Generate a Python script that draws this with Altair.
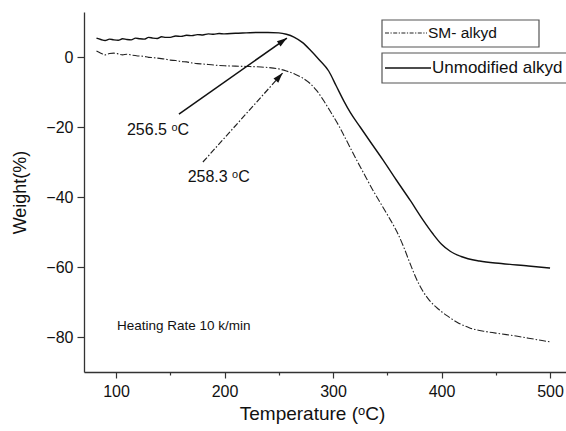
import math
import altair as alt
import pandas as pd

# ---- data ----
temp_unmod = [82, 86, 90, 94, 98, 102, 106, 110, 114, 118, 122, 126, 130, 134, 138, 142, 146, 150,
              155, 160, 165, 170, 175, 180, 185, 190, 195, 200, 210, 220, 230, 240, 250, 257, 264,
              272, 279, 287, 296, 303, 310, 316, 325, 335, 346, 358, 371, 383, 392, 400, 408, 418,
              435, 455, 480, 500]
weight_unmod = [5.4, 5.0, 4.7, 5.1, 4.9, 4.8, 5.2, 5.0, 4.9, 5.4, 5.2, 5.1, 5.6, 5.4, 5.3, 5.8, 5.6, 5.6,
                6.0, 5.9, 6.2, 6.1, 6.4, 6.3, 6.6, 6.5, 6.7, 6.6, 6.8, 6.9, 7.0, 7.0, 6.9, 6.5, 5.7,
                4.1, 2.0, -0.7, -4.0, -8.3, -12.6, -15.9, -20.0, -24.5, -29.4, -35.0, -40.9, -46.6, -50.5, -53.5, -55.5, -57.0,
                -58.3, -59.0, -59.7, -60.3]

temp_sm = [82, 86, 90, 94, 98, 102, 106, 110, 115, 120, 125, 130, 135, 140, 145, 150, 155, 160, 165,
           170, 175, 180, 190, 200, 210, 220, 230, 240, 250, 257, 265, 272, 279, 285, 291, 298, 306,
           314, 322, 330, 337, 345, 353, 359, 365, 371, 377, 383, 389, 397, 405, 415, 426, 440, 455,
           470, 485, 500]
weight_sm = [1.7, 1.1, 0.6, 1.0, 1.1, 0.9, 0.6, 0.8, 0.5, 0.3, 0.2, -0.1, -0.2, -0.4, -0.6, -0.9, -1.0, -1.3, -1.4,
             -1.7, -1.9, -2.0, -2.3, -2.5, -2.6, -2.7, -2.8, -3.0, -3.4, -4.0, -4.9, -6.0, -7.6, -9.6, -12.3, -15.8, -20.0,
             -24.8, -29.6, -34.2, -38.2, -42.4, -46.6, -50.0, -54.2, -59.0, -63.5, -67.0, -69.6, -72.0, -73.9, -75.9, -77.4, -78.4, -79.1,
             -79.8, -80.6, -81.4]

series_names = ["SM- alkyd", "Unmodified alkyd"]

arrow_series = ["Unmodified alkyd", "SM- alkyd"]
arrow_t0 = [158.0, 180.1]
arrow_w0 = [-16.3, -30.0]
arrow_t1 = [257.5, 253.5]
arrow_w1 = [5.4, -4.6]

label_text = ["256.5 ᵒC", "258.3 ᵒC"]
label_t = [110.1, 166.0]
label_w = [-20.9, -34.3]

note_text = ["Heating Rate 10 k/min"]
note_t = [100.9]
note_w = [-76.9]

x_ticks = [100, 150, 200, 250, 300, 350, 400, 450, 500]
y_ticks = [-80, -70, -60, -50, -40, -30, -20, -10, 0, 10]

# ---- layout ----
W, H = 482, 360
X_DOM = [70.5, 514.7]
Y_DOM = [-90, 12.86]
FONT = "Liberation Sans"
AX = "#333333"

df_u = pd.DataFrame({"T": temp_unmod, "W": weight_unmod, "s": series_names[1]})
df_s = pd.DataFrame({"T": temp_sm, "W": weight_sm, "s": series_names[0]})

# arrowhead angles from data directions (pixel space)
px_x = W / (X_DOM[1] - X_DOM[0])
px_y = H / (Y_DOM[1] - Y_DOM[0])
angles = []
for t0, w0, t1, w1 in zip(arrow_t0, arrow_w0, arrow_t1, arrow_w1):
    dx = (t1 - t0) * px_x
    dy = (w1 - w0) * px_y
    angles.append(math.degrees(math.atan2(dx, dy)) % 360)
df_arrow = pd.DataFrame({"s": arrow_series, "t0": arrow_t0, "w0": arrow_w0,
                         "t1": arrow_t1, "w1": arrow_w1, "ang": angles})

x_scale = alt.Scale(domain=X_DOM, nice=False, zero=False)
y_scale = alt.Scale(domain=Y_DOM, nice=False, zero=False)

x_axis = alt.Axis(
    values=x_ticks,
    labelExpr="datum.value % 100 === 0 ? datum.label : ''",
    tickSize={"condition": {"test": "datum.value % 100 === 0", "value": 6}, "value": 3},
    title="Temperature (ᵒC)", titleFont=FONT, titleFontSize=19, titleFontWeight="normal",
    titleColor="#111", titleX=228, titleY=47, titleAlign="center", titleBaseline="alphabetic",
    labelFont=FONT, labelFontSize=16, labelColor="#111", labelPadding=5,
    domainColor=AX, domainWidth=1.3, tickColor=AX, tickWidth=1.2, grid=False, labelFlush=False,
)
y_axis = alt.Axis(
    values=y_ticks,
    labelExpr="datum.value % 20 === 0 ? datum.label : ''",
    tickSize={"condition": {"test": "datum.value % 20 === 0", "value": 7}, "value": 4},
    title="Weight(%)", titleFont=FONT, titleFontSize=18, titleFontWeight="normal",
    titleColor="#111", titleX=-64, titleY=180, titleAngle=270, titleAlign="center",
    titleBaseline="middle",
    labelFont=FONT, labelFontSize=16, labelColor="#111", labelPadding=4,
    domainColor=AX, domainWidth=1.3, tickColor=AX, tickWidth=1.2, grid=False, labelFlush=False,
)

line_u = alt.Chart(df_u).mark_line(color="#111", strokeWidth=1.4, interpolate="monotone").encode(
    x=alt.X("T:Q", scale=x_scale, axis=x_axis),
    y=alt.Y("W:Q", scale=y_scale, axis=y_axis),
)
line_s = alt.Chart(df_s).mark_line(color="#222", strokeWidth=1.1, strokeDash=[7, 2, 1.5, 2],
                                   interpolate="monotone").encode(
    x=alt.X("T:Q", scale=x_scale),
    y=alt.Y("W:Q", scale=y_scale),
)

arrow_solid = alt.Chart(df_arrow[df_arrow.s == "Unmodified alkyd"]).mark_rule(
    color="#111", strokeWidth=1.5).encode(
    x=alt.X("t0:Q", scale=x_scale), y=alt.Y("w0:Q", scale=y_scale), x2="t1:Q", y2="w1:Q")
arrow_dash = alt.Chart(df_arrow[df_arrow.s == "SM- alkyd"]).mark_rule(
    color="#222", strokeWidth=1.2, strokeDash=[6, 2, 1.5, 2]).encode(
    x=alt.X("t0:Q", scale=x_scale), y=alt.Y("w0:Q", scale=y_scale), x2="t1:Q", y2="w1:Q")
heads = alt.Chart(df_arrow).mark_point(
    shape="M0,0L-0.32,1L0.32,1Z", filled=True, color="#111", opacity=1, size=400).encode(
    x=alt.X("t1:Q", scale=x_scale), y=alt.Y("w1:Q", scale=y_scale),
    angle=alt.Angle("ang:Q", scale=None))

df_lab = pd.DataFrame({"txt": label_text, "T": label_t, "W": label_w})
labels = alt.Chart(df_lab).mark_text(
    font=FONT, fontSize=16, align="left", baseline="middle", color="#111").encode(
    x=alt.X("T:Q", scale=x_scale), y=alt.Y("W:Q", scale=y_scale), text="txt:N")

df_note = pd.DataFrame({"txt": note_text, "T": note_t, "W": note_w})
note = alt.Chart(df_note).mark_text(
    font=FONT, fontSize=13.5, align="left", baseline="middle", color="#111").encode(
    x=alt.X("T:Q", scale=x_scale), y=alt.Y("W:Q", scale=y_scale), text="txt:N")

# ---- manual legend (two boxed entries) ----
one = pd.DataFrame({"k": [0]})
box1 = alt.Chart(one).mark_rect(fill="white", stroke="#555", strokeWidth=1.2).encode(
    x=alt.value(298), x2=alt.value(455), y=alt.value(8), y2=alt.value(35))
box2 = alt.Chart(one).mark_rect(fill="white", stroke="#555", strokeWidth=1.2).encode(
    x=alt.value(298), x2=alt.value(490), y=alt.value(41), y2=alt.value(71))
leg_l1 = alt.Chart(one).mark_rule(color="#222", strokeWidth=1.1, strokeDash=[4, 1.5, 1.2, 1.5]).encode(
    x=alt.value(301), x2=alt.value(343), y=alt.value(21))
leg_l2 = alt.Chart(one).mark_rule(color="#111", strokeWidth=1.4).encode(
    x=alt.value(301), x2=alt.value(347), y=alt.value(56))
leg_t1 = alt.Chart(one).mark_text(font=FONT, fontSize=15.5, align="left", baseline="middle",
                                  color="#111", text=series_names[0]).encode(
    x=alt.value(344), y=alt.value(21))
leg_t2 = alt.Chart(one).mark_text(font=FONT, fontSize=17, align="left", baseline="middle",
                                  color="#111", text=series_names[1]).encode(
    x=alt.value(348), y=alt.value(56))

chart = alt.layer(
    line_u, line_s, arrow_solid, arrow_dash, heads, labels, note,
    box1, box2, leg_l1, leg_l2, leg_t1, leg_t2,
).properties(
    width=W, height=H,
    autosize=alt.AutoSizeParams(type="none"),
    padding={"left": 84, "top": 12, "right": 0, "bottom": 59},
    background="white",
).configure_view(stroke=None)

chart.save("out.html", embed_options={"renderer": "svg", "actions": False})
